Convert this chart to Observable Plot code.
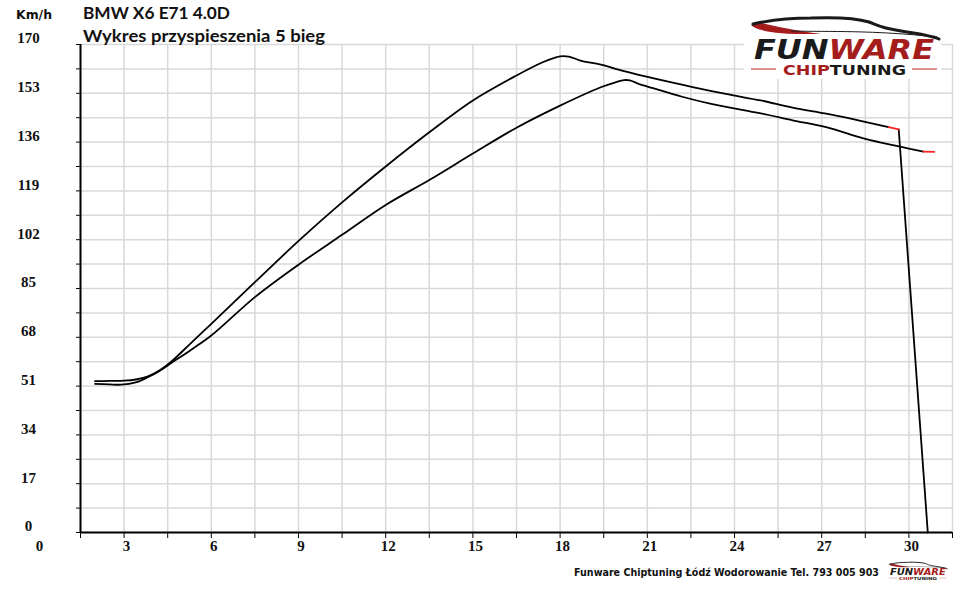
<!DOCTYPE html>
<html>
<head>
<meta charset="utf-8">
<script src="https://cdn.jsdelivr.net/npm/d3@7"></script>
<script src="https://cdn.jsdelivr.net/npm/@observablehq/plot@0.6"></script>
<style>
  html, body { margin: 0; padding: 0; background: #fff; }
  #chart { position: relative; width: 960px; height: 593px; }
</style>
</head>
<body>
<div id="chart"></div>
<script>
// ---- data ----
const timeA  = [2.0, 2.5, 3.0, 3.4, 3.8, 4.2, 4.6, 5.3, 6.0, 7.5, 9.05, 10.5, 12.0, 13.5, 15.0, 16.5, 17.4, 17.8, 18.0, 18.3, 18.7, 19.4, 20.2, 21.3, 22.6, 23.7, 24.9, 26.0, 27.2, 28.3, 29.3];
const speedA = [52.7, 52.8, 52.9, 53.3, 54.3, 56.3, 59.3, 66.0, 72.7, 87.2, 102.0, 115.0, 127.5, 139.4, 150.5, 159.2, 163.8, 165.3, 165.9, 165.8, 164.4, 163.0, 160.7, 158.0, 155.1, 152.8, 150.5, 148.0, 145.8, 143.5, 141.2];
const redTimeA  = [29.3, 29.65];
const redSpeedA = [141.2, 140.4];
const dropTimeA  = [29.65, 30.65];
const dropSpeedA = [140.4, 0];

const timeB  = [2.0, 2.5, 2.9, 3.4, 3.8, 4.2, 4.6, 5.3, 6.0, 7.5, 9.0, 10.5, 12.0, 13.5, 15.0, 16.5, 18.0, 19.4, 19.9, 20.2, 20.4, 20.7, 21.2, 22.2, 23.2, 24.9, 26.0, 27.15, 28.5, 29.7, 30.5];
const speedB = [51.8, 51.6, 51.5, 52.3, 54.0, 56.2, 58.9, 63.6, 68.6, 82.0, 93.3, 103.7, 114.1, 122.8, 132.0, 141.0, 148.7, 155.1, 156.8, 157.6, 157.5, 156.3, 154.8, 151.8, 149.3, 146.0, 143.6, 141.2, 137.1, 134.4, 132.7];
const redTimeB  = [30.5, 30.87];
const redSpeedB = [132.7, 132.6];

const xTicks  = [1.5, 3, 4.5, 6, 7.5, 9, 10.5, 12, 13.5, 15, 16.5, 18, 19.5, 21, 22.5, 24, 25.5, 27, 28.5, 30, 31.5];
const xLabels = [0, 3, 6, 9, 12, 15, 18, 21, 24, 27, 30];
const yTicks  = [0, 8.5, 17, 25.5, 34, 42.5, 51, 59.5, 68, 76.5, 85, 93.5, 102, 110.5, 119, 127.5, 136, 144.5, 153, 161.5, 170];
const yLabels = [0, 17, 34, 51, 68, 85, 102, 119, 136, 153, 170];

const title    = "BMW X6 E71 4.0D";
const subtitle = "Wykres przyspieszenia 5 bieg";
const yUnit    = "Km/h";
const footer   = "Funware Chiptuning Łódź Wodorowanie Tel. 793 005 903";

const pts = (xs, ys) => xs.map((x, i) => ({x, y: ys[i]}));

const labelFont = "Liberation Serif, DejaVu Serif, serif";

const plot = Plot.plot({
  width: 960,
  height: 593,
  marginLeft: 80,
  marginRight: 8,
  marginTop: 44,
  marginBottom: 61,
  style: {background: "#fff", color: "#000", fontFamily: labelFont},
  x: {domain: [1.5, 31.5], ticks: xTicks, tickSize: 6, tickFormat: () => "", label: null},
  y: {domain: [0, 170], ticks: yTicks, tickSize: 4, tickFormat: () => "", label: null},
  marks: [
    Plot.ruleX(xTicks, {stroke: "#d9d9d9", strokeWidth: 1.5}),
    Plot.ruleY(yTicks, {stroke: "#d9d9d9", strokeWidth: 1.5}),
    Plot.ruleX([1.5], {stroke: "#000", strokeWidth: 2}),
    Plot.ruleY([0], {stroke: "#000", strokeWidth: 2}),
    Plot.line(pts(timeB, speedB), {x: "x", y: "y", stroke: "#000", strokeWidth: 1.8, curve: "catmull-rom"}),
    Plot.line(pts(timeA, speedA), {x: "x", y: "y", stroke: "#000", strokeWidth: 1.8, curve: "catmull-rom"}),
    Plot.line(pts(dropTimeA, dropSpeedA), {x: "x", y: "y", stroke: "#000", strokeWidth: 1.8}),
    Plot.line(pts(redTimeA, redSpeedA), {x: "x", y: "y", stroke: "#ff2020", strokeWidth: 1.8}),
    Plot.line(pts(redTimeB, redSpeedB), {x: "x", y: "y", stroke: "#ff2020", strokeWidth: 1.8}),
    Plot.text(yLabels, {y: d => d, frameAnchor: "left", dx: -52, dy: -6, text: d => String(d),
      textAnchor: "middle", fontSize: 15, fontWeight: "bold", fontFamily: labelFont, fill: "#111"}),
    Plot.text(xLabels, {x: d => d, frameAnchor: "bottom", dx: 2.5, dy: 18, text: d => String(d),
      textAnchor: "middle", fontSize: 15, fontWeight: "bold", fontFamily: labelFont, fill: "#111"})
  ]
});

document.getElementById("chart").appendChild(plot);

// ---- overlay texts and logo ----
const svg = d3.select(plot);
const g = svg.append("g").attr("text-anchor", "start");

g.append("text").attr("x", 16).attr("y", 19).attr("text-anchor", "start")
  .attr("font-family", "DejaVu Sans, sans-serif").attr("font-weight", "bold").attr("font-size", 12.5)
  .attr("textLength", 36).attr("lengthAdjust", "spacingAndGlyphs").attr("fill", "#111").text(yUnit);

g.append("text").attr("x", 83).attr("y", 18.5).attr("text-anchor", "start")
  .attr("font-family", "Lato, Open Sans, sans-serif").attr("font-weight", "bold").attr("font-size", 17)
  .attr("textLength", 147).attr("lengthAdjust", "spacingAndGlyphs").attr("fill", "#111").text(title);

g.append("text").attr("x", 83).attr("y", 42).attr("text-anchor", "start")
  .attr("font-family", "Lato, Open Sans, sans-serif").attr("font-weight", "bold").attr("font-size", 17)
  .attr("textLength", 242).attr("lengthAdjust", "spacingAndGlyphs").attr("fill", "#111").text(subtitle);

g.append("text").attr("x", 574).attr("y", 575.5).attr("text-anchor", "start")
  .attr("font-family", "DejaVu Sans, sans-serif").attr("font-weight", "bold").attr("font-size", 11)
  .attr("textLength", 305).attr("lengthAdjust", "spacingAndGlyphs").attr("fill", "#111").text(footer);

function logo(parent, tx, ty, s, small) {
  const L = parent.append("g").attr("transform", `translate(${tx},${ty}) scale(${s})`).attr("text-anchor", "start");
  if (!small) L.append("rect").attr("x", -7).attr("y", -18).attr("width", 197).attr("height", 80).attr("fill", "#fff");
  // car silhouette
  L.append("path").attr("d", "M0,8 Q10,18 70,17 Q40,13 6,5 Z").attr("fill", "#a51c1c");
  L.append("path").attr("d", "M2,7 C20,3 40,1 60,1 C85,0 105,1 118,5 C128,9 130,11 150,14 C170,17 182,19 188,22")
    .attr("fill", "none").attr("stroke", "#1a1a1a").attr("stroke-width", 3).attr("stroke-linecap", "round");
  L.append("path").attr("d", "M40,14 C80,15 120,13 186,20")
    .attr("fill", "none").attr("stroke", "#1a1a1a").attr("stroke-width", 1);
  const t1 = L.append("text").attr("x", 3).attr("y", 42).attr("text-anchor", "start")
    .attr("font-family", "DejaVu Sans, sans-serif").attr("font-weight", "bold").attr("font-style", "italic")
    .attr("font-size", 26).attr("textLength", 180).attr("lengthAdjust", "spacingAndGlyphs");
  t1.append("tspan").attr("fill", "#1a1a1a").text("FUN");
  t1.append("tspan").attr("fill", "#a51c1c").text("WARE");
  const t2 = L.append("text").attr("x", 32).attr("y", 57.5).attr("text-anchor", "start")
    .attr("font-family", "DejaVu Sans, sans-serif").attr("font-weight", "bold")
    .attr("font-size", 13.5).attr("textLength", 123).attr("lengthAdjust", "spacingAndGlyphs");
  t2.append("tspan").attr("fill", "#a51c1c").text("CHIP");
  t2.append("tspan").attr("fill", "#1a1a1a").text("TUNING");
  L.append("line").attr("x1", 0).attr("x2", 25).attr("y1", 52).attr("y2", 52).attr("stroke", "#b22").attr("stroke-width", 1);
  L.append("line").attr("x1", 161).attr("x2", 186).attr("y1", 52).attr("y2", 52).attr("stroke", "#b22").attr("stroke-width", 1);
}
logo(g, 751, 17, 1, false);
logo(g, 889, 562, 0.31, true);
</script>
</body>
</html>
